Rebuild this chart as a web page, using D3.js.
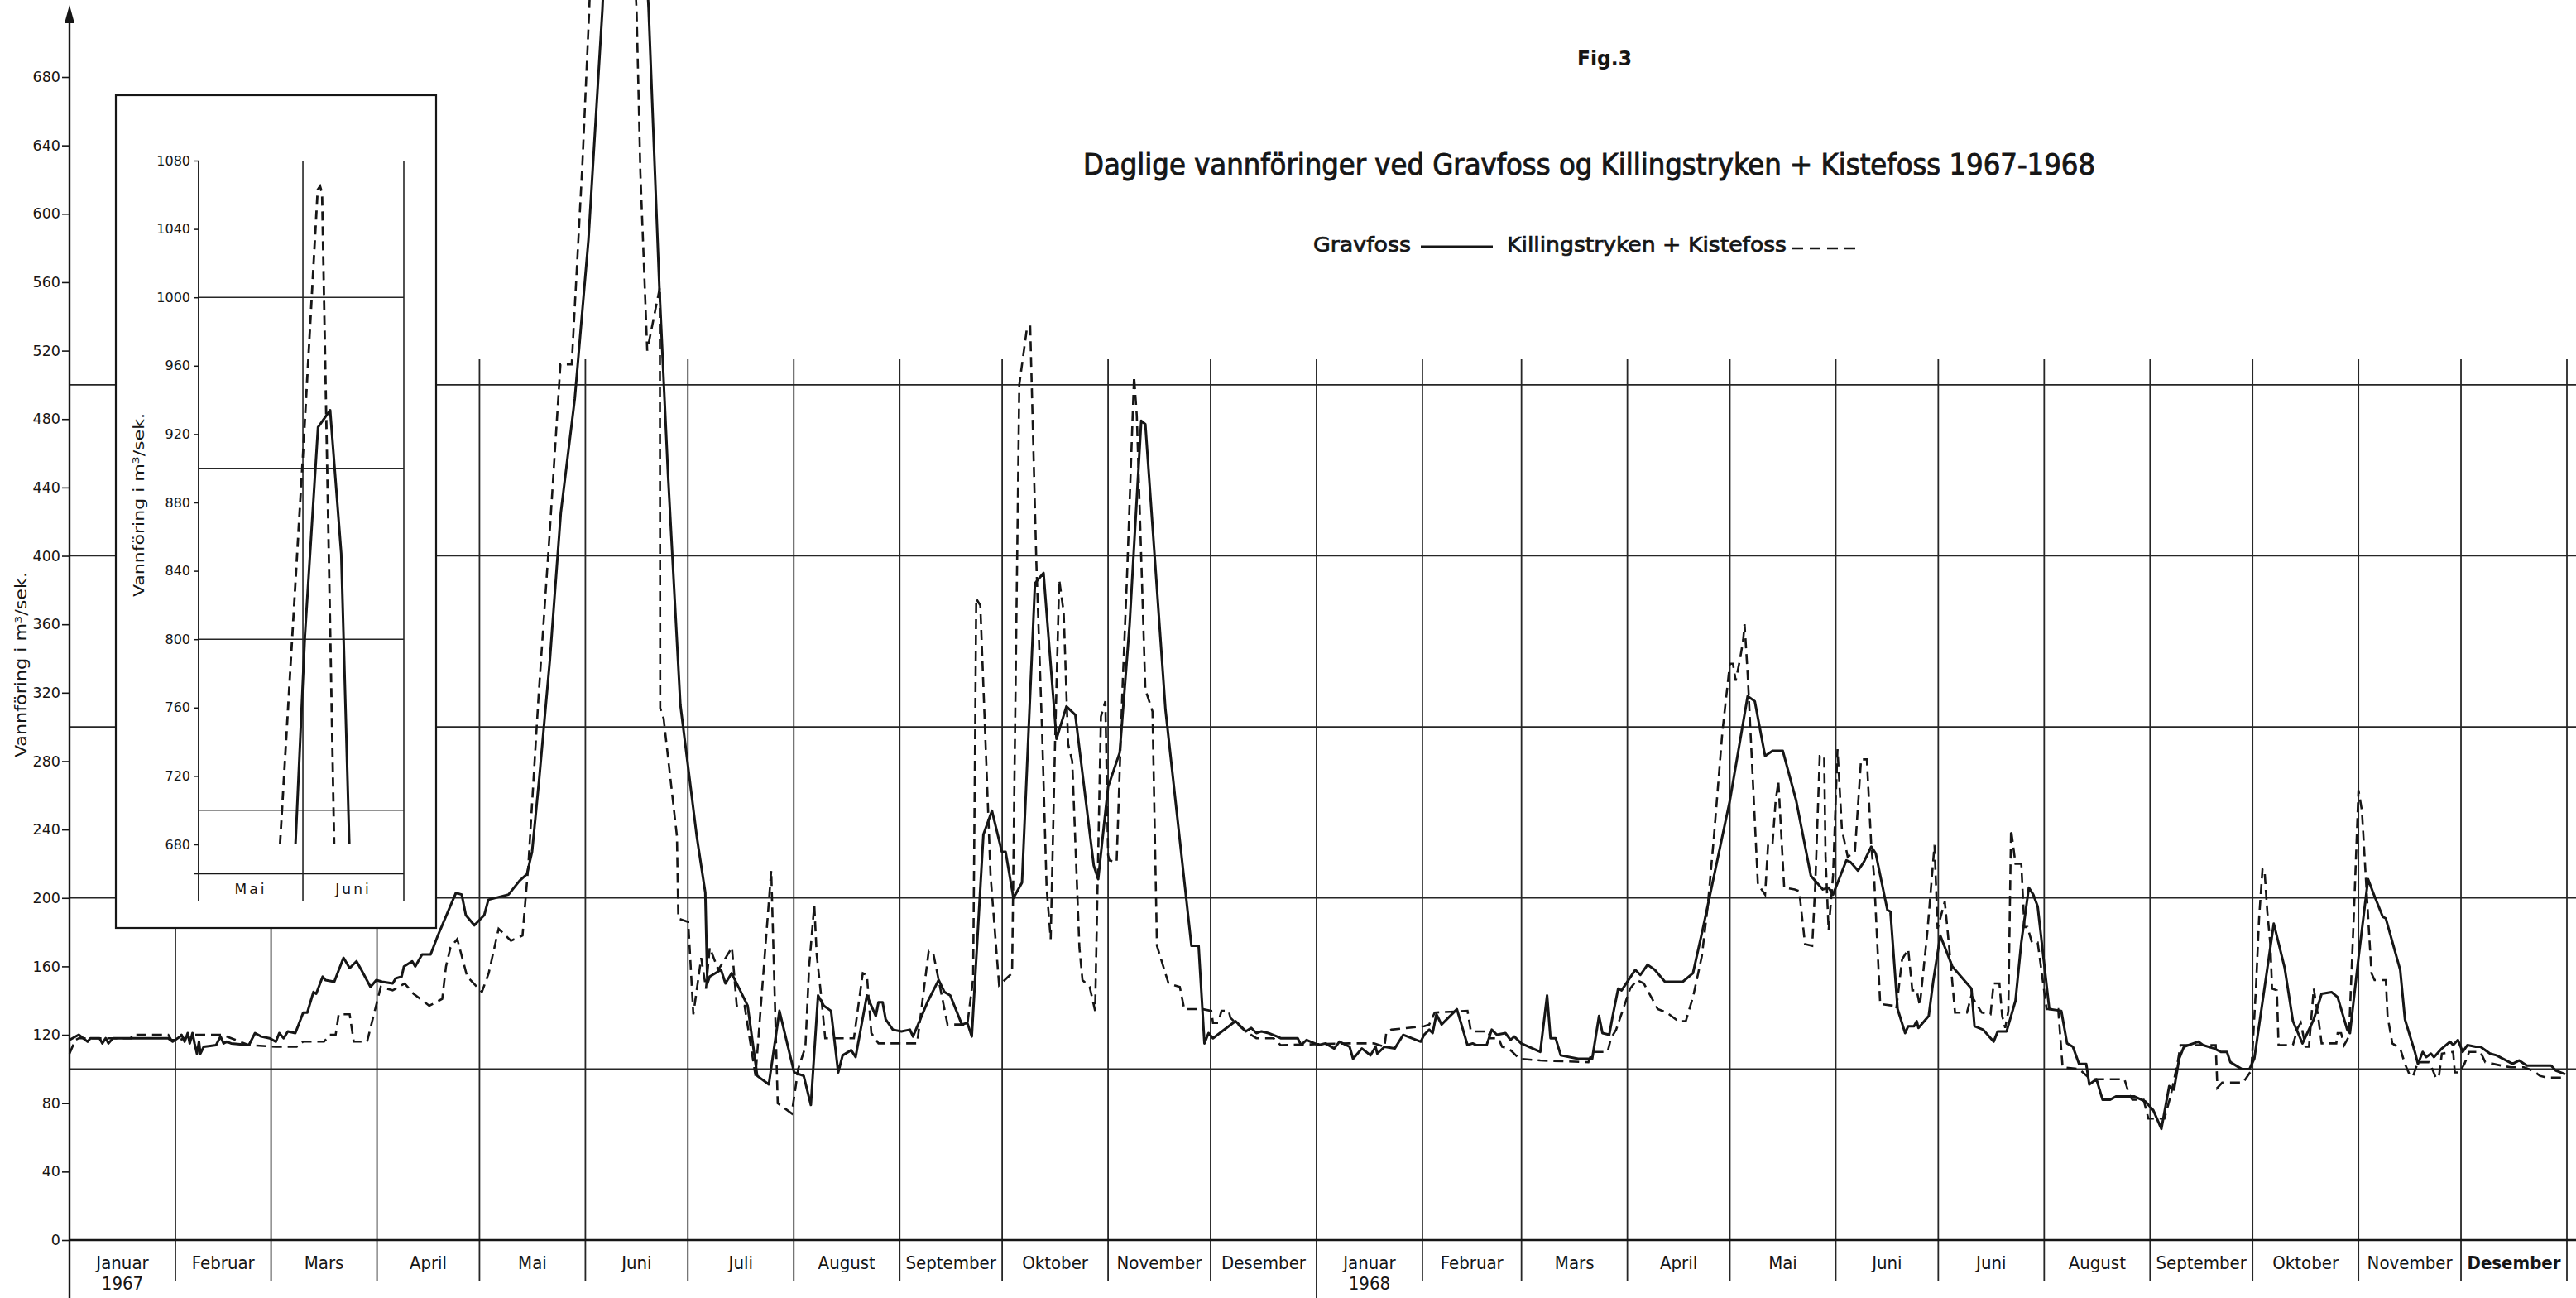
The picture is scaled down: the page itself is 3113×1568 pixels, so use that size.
<!DOCTYPE html>
<html><head><meta charset="utf-8">
<script src="https://cdn.jsdelivr.net/npm/d3@7"></script>
<style>
html,body{margin:0;padding:0;background:#fff;}
svg{display:block;}
.num{font-family:"DejaVu Sans",Lato,sans-serif;fill:#161616;}
.txt{font-family:"Liberation Sans Narrow","DejaVu Sans Condensed","Roboto Condensed","Liberation Sans",sans-serif;fill:#161616;}
</style></head>
<body><svg id="chart" width="3113" height="1568"></svg>
<script>
// ---- DATA: [day index counted from 1 Jan 1967, discharge m3/s] ----
const gravfoss1967 = [[0,117],[2.7,120],[5.3,116],[6.1,118],[8.8,118],[9.6,115],[10.6,118],[11.4,115],[12.7,118],[28.9,118],[30.2,116],[32.4,119],[32.8,120],[33.7,116],[34.6,121],[35.2,115],[36,121],[36.6,115],[37.3,109],[37.9,116],[38.3,109],[39.3,113],[42.9,114],[44.2,119],[45.1,115],[46,116],[47.3,115],[52.5,114],[54.3,121],[56.1,119],[58.6,118],[60.4,116],[61.4,121],[62.7,118],[63.9,122],[66.1,121],[68.4,133],[69.6,133],[71.4,145],[72.2,144],[74.1,154],[74.9,152],[77.5,151],[80.2,165],[82,159],[84,163],[85.4,158],[88.1,148],[89.8,152],[91.5,151],[94.6,150],[95.5,153],[97.2,154],[97.9,160],[100.3,163],[101.2,160],[103.2,167],[105.7,167],[107.8,178],[113.1,203],[114.8,202],[116,190],[118.5,184],[121.4,190],[122.6,199],[128.5,202],[131.7,210],[133.9,214],[135.4,227],[137.5,270],[140.6,339],[143.8,425],[147.9,492],[151.9,585],[156,720],[158.5,840],[162,934],[166,850],[169.5,720],[172.7,555],[175.2,447],[178.8,313],[183.6,236],[186.1,203],[186.7,150],[187.4,154],[190.7,158],[192,150],[193.8,156],[198.5,137],[201.3,96],[204.7,91],[207.8,134],[212.1,98],[214.9,96],
[217,79],[219.1,143],[220.8,137],[222.9,134],[225,98],[226.3,108],[228.8,111],[230.1,107],[233.4,143],[236,131],[236.8,139],[238,139],[238.9,129],[241,123],[243.5,122],[246,123],[246.9,119],[251.1,139],[254.4,152],[256.1,145],[257.8,143],[261.2,126],[262.8,127],[264.1,119],[267.5,237],[270,251],[272.9,227],[274,227],[276.3,200],[278.8,209],[282.6,384],[285.1,390],[288.9,293],[291.8,312],[294.4,307],[299.8,219],[301.1,211],[304,265],[307.4,285],[310.3,360],[313.7,479],[314.9,477],[320.8,310],[328.4,172],[330.5,172],[332.2,115],[333.4,121],[334.7,118],[341.3,128],[344.3,122],[345.9,124],[347.4,121],[348.9,122],[350.9,121],[353.5,119],[354.5,118],[359.5,118],[360.5,114],[362.1,117]];
const gravfoss1968 = [[365.6,114],[367.6,115],[370.2,112],[371.7,116],[374.7,113],[375.7,106],[378.3,112],[380.8,108],[382.3,113],[382.8,109],[384.9,113],[387.9,112],[390.4,120],[395.5,116],[396.5,120],[398,123],[399,121],[400.1,132],[401.6,126],[406.1,135],[409.2,114],[410.7,115],[411.7,114],[414.8,114],[416.3,123],[417.8,120],[420.3,121],[421.8,117],[422.9,119],[424.9,115],[430.5,110],[432.5,143],[433.5,118],[435,118],[436.5,108],[441.6,106],[445.7,106],[447.7,131],[448.7,121],[450.7,120],[451.7,131],[453.3,147],[454.3,146],[458.3,158],[459.8,155],[461.9,161],[464,158],[465.7,154],[467,151],[472.2,151],[475.2,156],[478.2,183],[486,257],[491.2,318],[493.3,315],[496.3,283],[498.5,286],[501.5,286],[505.4,257],[509.7,213],[513.2,205],[514.9,206],[516.2,202],[520.1,222],[521.3,221],[523.5,216],[525.2,221],[527.4,230],[528.7,226],[532.1,193],[533,192],[535.1,135],[537.3,121],[538.2,125],[539.9,125],[540.7,128],[541.2,124],[544.2,131],[545.5,151],
[547.6,178],[551.1,160],[556.7,147],[557.6,125],[560.1,123],[563.2,116],[564.4,122],[567,122],[569.6,140],[571.3,174],[573.5,206],[574.8,202],[576.1,195],[579.5,135],[583,134],[584.7,115],[586.4,113],[588.2,103],[590.3,103],[591.2,91],[593.3,94],[595.1,82],[597.2,82],[599.1,84],[604.3,84],[607.6,81],[609.9,76],[612.3,65],[614.6,90],[616,88],[617.5,106],[618.9,113],[623.1,116],[624.5,114],[627.8,112],[629.7,110],[631.5,110],[632.5,104],[635.8,100],[638.1,100],[639.5,106],[645.2,185],[648.4,159],[650.8,128],[653.6,115],[656.9,129],[659.2,144],[662.1,145],[663.9,142],[666.7,123],[667.5,121],[670,165],[672.8,211],[674.3,203],[677.1,189],[678,188],[682.2,158],[683.6,129],[686.5,110],[687.4,103],[688.8,110],[689.8,107],[691.2,109],[692.1,107],[694.4,112],[696.8,116],[697.7,114],[699.1,117],[700.5,110],[701.9,114],[704.3,113],[705.7,113],[708.5,109],[710.4,108],[715.1,103],[717,105],[719.3,102],[726.4,102],[727.8,99],[730.5,97]];
const killingKiste1967 = [[0,109],[1.7,117],[2.7,118],[18,118],[18.4,120],[28.9,120],[29.8,117],[32.4,117],[36,120],[44.7,120],[52.5,114],[60.4,113],[66.5,113],[68.4,116],[74.5,116],[76.2,120],[77.9,120],[78.8,132],[82,132],[83.2,116],[87.1,116],[91.1,148],[94.6,146],[98.1,150],[100.7,144],[105.3,137],[109.1,141],[110.2,160],[111.5,171],[113.5,176],[116.4,154],[120.7,145],[122.7,156],[125.6,182],[129.2,175],[132.6,178],[134.3,219],[137.3,318],[140.5,412],[143.7,512],[147,512],[150.1,628],[152.1,718],[155,880],[158,1063],[160,1060],[164,800],[166,718],[167.1,624],[169.1,520],[172.8,557],[172.9,311],[173.9,305],[177.8,236],[178.2,188],[181.1,186],[182.6,132],[184.9,165],[186.3,147],[187.4,171],[189.9,158],[193.9,171],[195.3,137],[197.6,137],[200.8,96],[205.4,216],[207.3,80],[211.4,74],
[213.3,100],[215.4,113],[216.5,160],[218,196],[218.7,167],[220,143],[221.2,118],[229.6,118],[232.2,156],[233.4,155],[234.7,121],[236.8,115],[248.1,115],[251.5,169],[252.8,168],[257,126],[262.8,126],[264.5,153],[265.4,375],[266.6,371],[269.6,213],[272.1,149],[275.9,156],[278,500],[280.3,534],[281.2,534],[283,396],[284.7,296],[286,206],[287.2,176],[288.5,293],[289.7,386],[291,367],[292.3,290],[293.5,280],[295.6,171],[296.5,152],[298.6,148],[300.2,134],[301.9,306],[303.2,315],[304,225],[304.4,222],[306.5,221],[308.2,322],[309.5,386],[311.6,505],[312.4,482],[314.9,322],[317,309],[318.3,172],[321.7,150],[325,148],[326.3,135],[331.7,135],[334.2,134],[334.7,127],[336.2,127],[337.2,134],[339.3,134],[339.8,130],[341.3,127],[344.3,122],[347.4,118],[352.4,118],[354.5,114]];
const killingKiste1968 = [[374.7,115],[381.8,115],[384.9,113],[385.4,121],[386.9,123],[396.5,125],[398,126],[399.6,133],[409.2,134],[410.2,122],[415.3,122],[415.8,118],[418.3,118],[419.3,113],[421.3,112],[424.4,106],[430.5,105],[444.6,104],[445.7,110],[450.2,110],[451.2,118],[452.7,123],[456.8,147],[458.8,152],[460.8,150],[464.9,135],[467.5,133],[470.9,128],[473.1,128],[475.2,142],[477.8,166],[479.5,195],[481.3,235],[483.8,297],[486,337],[486.9,337],[487.7,327],[489,340],[489.9,351],[490.3,360],[491.2,331],[491.6,315],[494.2,208],[496.3,202],[497.2,232],[498.5,232],[499.4,257],[500.2,268],[501.9,206],[505,205],[506.3,204],[508,173],[510.1,172],[511,208],[512.3,283],[513.6,283],[514,224],[514.9,181],[516.2,213],[517.5,287],[518.8,240],[520.5,224],[522.6,227],[524.4,281],[526.1,281],[527.4,230],[528.2,213],[530,138],[533.8,137],[534.7,135],[536.4,164],[538.2,170],[539.4,146],[540.7,146],[541.6,137],[543.8,180],[545.9,231],
[546.8,182],[548.9,198],[550.2,171],[551.9,133],[555.4,133],[556.7,143],[559.7,133],[562.3,132],[563.2,150],[564.9,150],[565.7,131],[566.6,124],[567.5,134],[568.3,240],[569.6,220],[571.3,220],[572.2,183],[573.1,183],[574.4,174],[576.1,174],[578.7,135],[582.1,135],[583.4,101],[588.2,100],[591.6,94],[601.5,94],[602.9,85],[603.8,82],[607.1,82],[608.5,71],[613.2,71],[615.1,85],[617,103],[617.9,114],[628.2,114],[628.7,89],[630.1,92],[636.2,92],[638.6,99],[639,112],[640,148],[640.9,188],[641.9,217],[642.5,216],[643.3,192],[644.2,173],[644.7,147],[646.1,146],[646.6,114],[650.8,114],[652.2,124],[653.1,127],[654.5,113],[655.5,113],[656.9,147],[658.3,129],[659.2,115],[663.5,115],[663.9,121],[664.9,121],[665.8,114],[667.2,119],[668.6,188],[670,263],[671,251],[672.4,203],[673.8,156],[674.7,152],[678,152],[678.5,131],[679.9,115],[682.2,112],[683.6,103],[685.1,96],[686,96],[687.4,104],[690.7,104],[691.6,100],[692.6,95],[693.5,95],[694.4,109],[697.7,110],[698.2,98],[699.6,98],[701,103],[702.4,110],[705.7,110],[707.1,104],[711.8,102],[714.6,101],[718.4,101],[721.2,99],[723.1,96],[725,95],[730.5,95]];
// inset (flood peak May–June 1967, values above 680 as drawn in the inset)
const gravfossInsetPeak = [[148.8,680],[151.6,802],[155.5,924],[159.1,934],[162.4,850],[164.8,680]];
const killingKisteInsetPeak = [[144.2,680],[151,907],[155.4,1063],[156.1,1065],[156.7,1061],[160.3,680]];

const monthLabels = ["Januar","Februar","Mars","April","Mai","Juni","Juli","August","September","Oktober","November","Desember",
                     "Januar","Februar","Mars","April","Mai","Juni","Juni","August","September","Oktober","November","Desember"];
const yearLabels = ["1967","1968"];
const yTicks = d3.range(0, 681, 40);
const gridValues = [100,200,300,400,500];
const insetTicks = d3.range(680, 1081, 40);
const insetGrid = [700,800,900,1000];
const insetMonths = ["Mai","Juni"];
const titleText = "Daglige vannföringer ved Gravfoss og Killingstryken + Kistefoss 1967-1968";
const figText = "Fig.3";
const seriesNames = ["Gravfoss","Killingstryken + Kistefoss"];
const yTitle = "Vannföring i m³/sek.";

// ---- CHART ----
const svg = d3.select("#chart");
const ink = "#161616";
const t0 = Date.UTC(1967,0,1);
const toDate = d => new Date(t0 + d*864e5);
const x = d3.scaleUtc().domain([new Date(t0), new Date(Date.UTC(1969,0,1))]).range([84, 3102]);
const y = d3.scaleLinear().domain([0, 680]).range([1498, 93]);

svg.append("rect").attr("width",3113).attr("height",1568).attr("fill","#fff");

svg.append("g").selectAll("line").data(gridValues).join("line")
  .attr("x1", x.range()[0]).attr("x2", 3113)
  .attr("y1", d => y(d)).attr("y2", d => y(d))
  .attr("stroke", "#262626").attr("stroke-width", 1.6);

const monthStarts = d3.utcMonth.range(new Date(Date.UTC(1967,1,1)), new Date(Date.UTC(1969,0,2)));
svg.append("g").selectAll("line").data(monthStarts).join("line")
  .attr("x1", d => x(d)).attr("x2", d => x(d))
  .attr("y1", y(515))
  .attr("y2", d => (d.getUTCMonth() === 0 && d.getUTCFullYear() === 1968) ? 1568 : 1548)
  .attr("stroke", "#262626").attr("stroke-width", 1.8);

svg.append("line").attr("x1", x.range()[0]).attr("x2", 3113)
  .attr("y1", y(0)).attr("y2", y(0)).attr("stroke", ink).attr("stroke-width", 2.6);

const yAxis = svg.append("g").attr("transform", `translate(${x.range()[0]},0)`)
  .call(d3.axisLeft(y).tickValues(yTicks).tickSize(9).tickPadding(2).tickFormat(d3.format("d")));
yAxis.select(".domain").remove();
yAxis.selectAll(".tick line").attr("stroke", ink).attr("stroke-width", 1.6);
yAxis.selectAll(".tick text").attr("class","num").attr("font-size", 17.5).attr("fill", ink);
svg.append("line").attr("x1", x.range()[0]).attr("x2", x.range()[0]).attr("y1", 1568).attr("y2", 20)
  .attr("stroke", ink).attr("stroke-width", 2.4);
svg.append("path").attr("d", `M${x.range()[0]},6 L${x.range()[0]-6},28 L${x.range()[0]+6},28 Z`).attr("fill", ink);

const gravfoss = gravfoss1967.concat(gravfoss1968);
const killingKiste = killingKiste1967.concat(killingKiste1968);
const line = d3.line().x(d => x(toDate(d[0]))).y(d => y(d[1]));
svg.append("path").datum(gravfoss).attr("d", line).attr("fill","none")
  .attr("stroke", ink).attr("stroke-width", 3).attr("stroke-linejoin","round");
svg.append("path").datum(killingKiste).attr("d", line).attr("fill","none")
  .attr("stroke", ink).attr("stroke-width", 2.6).attr("stroke-dasharray","12,7");

const monthSpans = d3.utcMonth.range(new Date(t0), new Date(Date.UTC(1969,0,1)));
svg.append("g").selectAll("text").data(monthSpans).join("text")
  .attr("class","txt")
  .attr("x", d => (x(d) + x(d3.utcMonth.offset(d,1))) / 2)
  .attr("y", 1533).attr("text-anchor","middle").attr("font-size", 22)
  .attr("font-weight", (d,i) => i === 23 ? "bold" : "normal")
  .text((d,i) => monthLabels[i]);
svg.append("g").selectAll("text").data(yearLabels).join("text")
  .attr("class","txt")
  .attr("x", (d,i) => { const s = new Date(Date.UTC(1967+i,0,1)); return (x(s) + x(d3.utcMonth.offset(s,1))) / 2; })
  .attr("y", 1558).attr("text-anchor","middle").attr("font-size", 22).text(d => d);

svg.append("text").attr("class","txt").attr("font-size", 19)
  .attr("transform","translate(32,803) rotate(-90)").attr("text-anchor","middle")
  .attr("textLength", 224).attr("lengthAdjust","spacingAndGlyphs").text(yTitle);

svg.append("text").attr("class","txt").attr("x",1939).attr("y",79).attr("text-anchor","middle")
  .attr("font-size",25).attr("font-weight","bold").attr("textLength",66).attr("lengthAdjust","spacingAndGlyphs").text(figText);
svg.append("text").attr("class","txt").attr("x",1309).attr("y",211)
  .attr("font-size",35).attr("stroke",ink).attr("stroke-width",0.9)
  .attr("textLength",1223).attr("lengthAdjust","spacingAndGlyphs").text(titleText);
svg.append("text").attr("class","txt").attr("x",1587).attr("y",304)
  .attr("font-size",25).attr("stroke",ink).attr("stroke-width",0.7)
  .attr("textLength",118).attr("lengthAdjust","spacingAndGlyphs").text(seriesNames[0]);
svg.append("line").attr("x1",1717).attr("x2",1804).attr("y1",298).attr("y2",298).attr("stroke",ink).attr("stroke-width",2.8);
svg.append("text").attr("class","txt").attr("x",1821).attr("y",304)
  .attr("font-size",25).attr("stroke",ink).attr("stroke-width",0.7)
  .attr("textLength",338).attr("lengthAdjust","spacingAndGlyphs").text(seriesNames[1]);
svg.append("line").attr("x1",2166).attr("x2",2248).attr("y1",300).attr("y2",300).attr("stroke",ink)
  .attr("stroke-width",2.6).attr("stroke-dasharray","13,8");

// ---- INSET ----
const xi = d3.scaleUtc().domain([new Date(Date.UTC(1967,4,1)), new Date(Date.UTC(1967,6,1))]).range([240, 488]);
const yi = d3.scaleLinear().domain([680, 1080]).range([1020, 194]);
const inset = svg.append("g");
inset.append("rect").attr("x",140).attr("y",115).attr("width",387).attr("height",1006)
  .attr("fill","#fff").attr("stroke",ink).attr("stroke-width",2.2);
inset.append("g").selectAll("line").data(insetGrid).join("line")
  .attr("x1", xi.range()[0]).attr("x2", xi.range()[1]).attr("y1", d => yi(d)).attr("y2", d => yi(d))
  .attr("stroke","#262626").attr("stroke-width",1.5);
inset.append("line").attr("x1", xi.range()[0]-5).attr("x2", xi.range()[1]).attr("y1", yi(663)).attr("y2", yi(663))
  .attr("stroke", ink).attr("stroke-width", 2.2);
const insetBounds = [new Date(Date.UTC(1967,4,1)), new Date(Date.UTC(1967,5,1)), new Date(Date.UTC(1967,6,1))];
inset.append("g").selectAll("line").data(insetBounds).join("line")
  .attr("x1", d => xi(d)).attr("x2", d => xi(d)).attr("y1", yi(1080)).attr("y2", 1088)
  .attr("stroke", "#262626").attr("stroke-width", (d,i) => i === 0 ? 2 : 1.6);
const yiAxis = inset.append("g").attr("transform", `translate(${xi.range()[0]},0)`)
  .call(d3.axisLeft(yi).tickValues(insetTicks).tickSize(6).tickPadding(4).tickFormat(d3.format("d")));
yiAxis.select(".domain").remove();
yiAxis.selectAll(".tick line").attr("stroke", ink).attr("stroke-width", 1.5);
yiAxis.selectAll(".tick text").attr("class","num").attr("font-size",16).attr("fill",ink);
inset.append("g").selectAll("text").data(insetMonths).join("text")
  .attr("class","num").attr("font-size",17).attr("letter-spacing",3).attr("text-anchor","middle")
  .attr("x", (d,i) => (xi(insetBounds[i]) + xi(insetBounds[i+1])) / 2).attr("y", 1080).text(d => d);
inset.append("text").attr("class","txt").attr("font-size",18)
  .attr("transform","translate(174,610) rotate(-90)").attr("text-anchor","middle")
  .attr("textLength",222).attr("lengthAdjust","spacingAndGlyphs").text(yTitle);
svg.append("clipPath").attr("id","insetClip").append("rect")
  .attr("x", xi.range()[0]).attr("y", yi(1080)).attr("width", xi.range()[1]-xi.range()[0]).attr("height", yi(680)-yi(1080));
const iline = d3.line().x(d => xi(toDate(d[0]))).y(d => yi(d[1]));
const ig = inset.append("g").attr("clip-path","url(#insetClip)");
ig.append("path").datum(gravfossInsetPeak).attr("d", iline).attr("fill","none")
  .attr("stroke", ink).attr("stroke-width", 3).attr("stroke-linejoin","round");
ig.append("path").datum(killingKisteInsetPeak).attr("d", iline).attr("fill","none")
  .attr("stroke", ink).attr("stroke-width", 2.8).attr("stroke-dasharray","11,7");
</script></body></html>
